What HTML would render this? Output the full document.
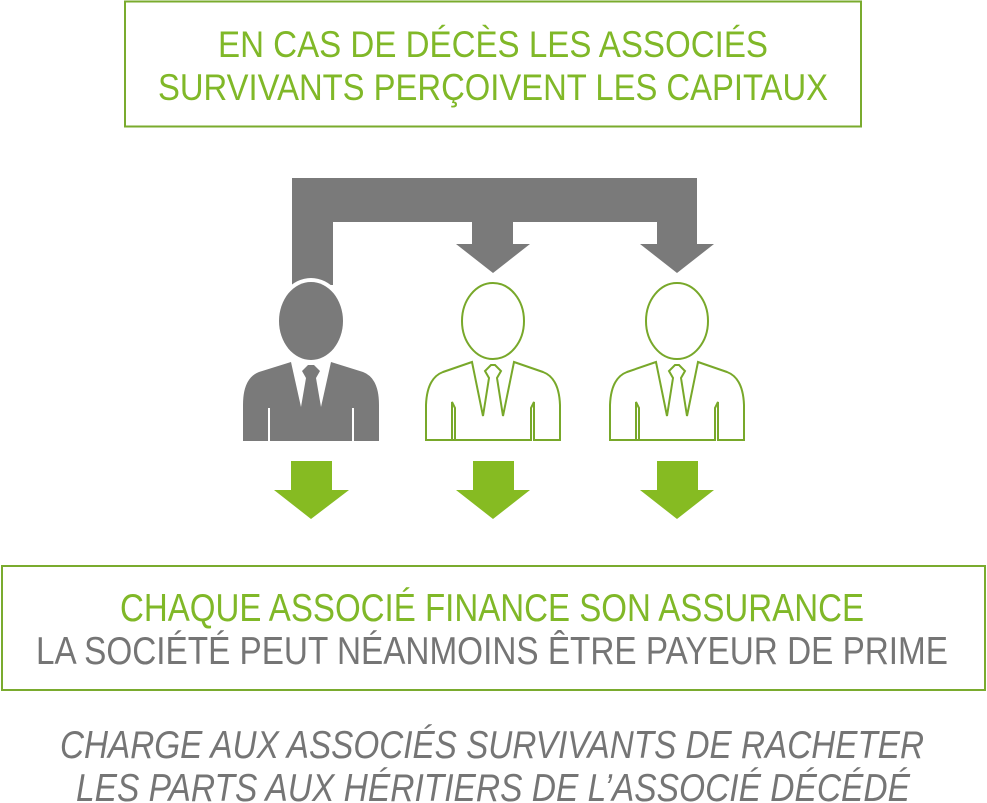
<!DOCTYPE html>
<html><head><meta charset="utf-8"><style>
html,body{margin:0;padding:0;background:#fff;}
svg{display:block;}
text{font-family:"Liberation Sans Narrow","Liberation Sans",sans-serif;}
</style></head><body>
<svg width="987" height="803" viewBox="0 0 987 803" xmlns="http://www.w3.org/2000/svg">
<rect x="125" y="1.5" width="736" height="125" fill="none" stroke="#7aab2e" stroke-width="2"/>
<text x="493" y="57" font-size="37" fill="#80b828" text-anchor="middle" textLength="550" lengthAdjust="spacingAndGlyphs">EN CAS DE DÉCÈS LES ASSOCIÉS</text>
<text x="493" y="100" font-size="37" fill="#80b828" text-anchor="middle" textLength="670" lengthAdjust="spacingAndGlyphs">SURVIVANTS PERÇOIVENT LES CAPITAUX</text>

<!-- gray connector -->
<path d="M292,178 H697 V244 H714 L677,273 L640,244 H657 V222 H513 V244 H530 L493,273 L456,244 H472 V222 H333 V285 H292 Z" fill="#7a7a7a"/>

<defs>
<g id="body">
<path d="M-20,362 L-10,407 L0,372 L10,407 L20,362 L52,372 Q66,378 68,400 L68,441 H-68 L-68,400 Q-66,378 -52,372 Z"/>
</g>
</defs>

<!-- gray person -->
<ellipse cx="311" cy="321" rx="36" ry="43" fill="#fff"/>
<ellipse cx="311" cy="321" rx="32" ry="39" fill="#7a7a7a"/>
<g transform="translate(311,0)">
<path d="M-20,362 L-10,407 L-5,378 L-9,371 L-3,365 H3 L9,371 L5,378 L10,407 L20,362 L52,372 Q68,378 68,405 L68,441 H-68 L-68,405 Q-68,378 -52,372 Z" fill="#7a7a7a"/>
<line x1="-42" y1="408" x2="-42" y2="441" stroke="#fff" stroke-width="2"/>
<line x1="42" y1="408" x2="42" y2="441" stroke="#fff" stroke-width="2"/>
</g>

<!-- green persons -->
<g fill="none" stroke="#78a82a" stroke-width="2">
<g transform="translate(493,0)">
<ellipse cx="0" cy="321" rx="31" ry="38"/>
<path d="M-21,362 L-10,416 L-4,378 L-8,371 L-2,365 H2 L8,371 L4,378 L10,416 L21,362 L50,372 Q66,378 67,405 L67,440 H41 V402 L38,408 V440 H-41 V402 L-38,408 V440 H-67 L-67,405 Q-66,378 -50,372 Z"/>
</g>
<g transform="translate(677,0)">
<ellipse cx="0" cy="321" rx="31" ry="38"/>
<path d="M-21,362 L-10,416 L-4,378 L-8,371 L-2,365 H2 L8,371 L4,378 L10,416 L21,362 L50,372 Q66,378 67,405 L67,440 H41 V402 L38,408 V440 H-41 V402 L-38,408 V440 H-67 L-67,405 Q-66,378 -50,372 Z"/>
</g>
</g>

<!-- green arrows -->
<g fill="#86bb22">
<path d="M291,461 H332 V490 H349 L311,519 L274,490 H291 Z"/>
<path d="M473,461 H514 V490 H530 L493,519 L456,490 H473 Z"/>
<path d="M657,461 H698 V490 H714 L677,519 L640,490 H657 Z"/>
</g>

<rect x="2" y="566" width="983" height="124" fill="none" stroke="#7aab2e" stroke-width="2"/>
<text x="492" y="621" font-size="39" fill="#80b828" text-anchor="middle" textLength="744" lengthAdjust="spacingAndGlyphs">CHAQUE ASSOCIÉ FINANCE SON ASSURANCE</text>
<text x="492" y="664" font-size="39" fill="#757575" text-anchor="middle" textLength="912" lengthAdjust="spacingAndGlyphs">LA SOCIÉTÉ PEUT NÉANMOINS ÊTRE PAYEUR DE PRIME</text>
<text x="492" y="758" font-size="39" fill="#757575" font-style="italic" text-anchor="middle" textLength="864" lengthAdjust="spacingAndGlyphs">CHARGE AUX ASSOCIÉS SURVIVANTS DE RACHETER</text>
<text x="493" y="801" font-size="39" fill="#757575" font-style="italic" text-anchor="middle" textLength="834" lengthAdjust="spacingAndGlyphs">LES PARTS AUX HÉRITIERS DE L’ASSOCIÉ DÉCÉDÉ</text>
</svg>
</body></html>
